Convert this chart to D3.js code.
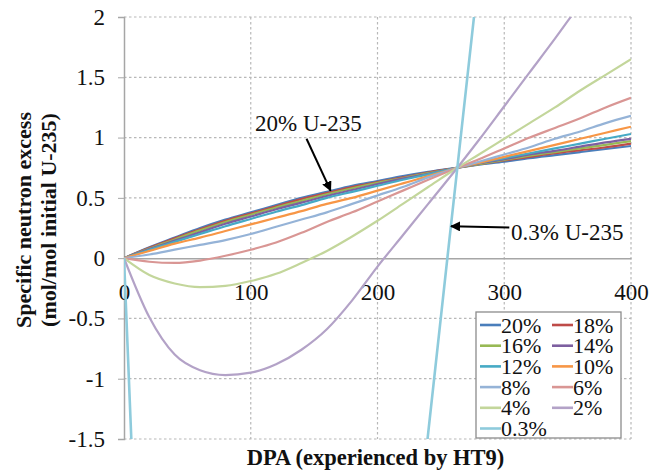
<!DOCTYPE html>
<html><head><meta charset="utf-8">
<script src="https://cdn.jsdelivr.net/npm/d3@7"></script>
<style>body{margin:0;background:#fff}svg{display:block}</style>
</head><body>
<script>
const dpa = [0,20,40,60,80,100,120,140,160,180,200,220,240,263,280,300,320,340,360,380,400];
const s20 = [0,0.09,0.17,0.25,0.32,0.38,0.44,0.50,0.55,0.60,0.64,0.68,0.715,0.75,0.775,0.80,0.83,0.855,0.88,0.905,0.93];
const s18 = [0,0.085,0.165,0.24,0.31,0.37,0.43,0.49,0.54,0.59,0.63,0.67,0.71,0.75,0.78,0.81,0.84,0.87,0.895,0.92,0.95];
const s16 = [0,0.08,0.155,0.23,0.30,0.36,0.42,0.475,0.53,0.58,0.625,0.665,0.705,0.75,0.78,0.815,0.85,0.88,0.91,0.94,0.97];
const s14 = [0,0.075,0.145,0.215,0.285,0.345,0.405,0.46,0.515,0.565,0.615,0.66,0.70,0.75,0.785,0.82,0.86,0.89,0.925,0.96,0.99];
const s12 = [0,0.07,0.135,0.20,0.265,0.325,0.385,0.44,0.50,0.55,0.60,0.65,0.695,0.75,0.79,0.83,0.87,0.91,0.95,0.99,1.03];
const s10 = [0,0.06,0.12,0.17,0.225,0.28,0.335,0.39,0.45,0.50,0.56,0.62,0.68,0.75,0.79,0.84,0.89,0.94,0.99,1.04,1.09];
const s8  = [0,0.03,0.07,0.11,0.15,0.20,0.26,0.32,0.38,0.45,0.52,0.59,0.67,0.75,0.80,0.86,0.92,0.99,1.05,1.12,1.18];
const s6  = [0,-0.03,-0.04,-0.02,0.02,0.07,0.13,0.21,0.30,0.38,0.47,0.56,0.65,0.75,0.82,0.91,1.00,1.08,1.16,1.25,1.33];
const s4  = [0,-0.14,-0.21,-0.24,-0.23,-0.19,-0.13,-0.04,0.06,0.18,0.31,0.45,0.59,0.75,0.86,0.99,1.12,1.25,1.39,1.52,1.65];
const s2  = [0,-0.49,-0.80,-0.93,-0.97,-0.95,-0.88,-0.76,-0.59,-0.35,-0.07,0.19,0.45,0.75,0.98,1.26,1.54,1.82,2.11,2.39,2.67];
const s03 = [0,-5.2,-9.0,-11.5,-12.8,-13.2,-12.9,-11.9,-10.4,-8.5,-6.2,-3.45,-1.45,0.75,2.37,4.3,6.2,8.1,10.0,11.9,13.8];

const seriesNames = ["20%","18%","16%","14%","12%","10%","8%","6%","4%","2%","0.3%"];
const seriesValues = [s20,s18,s16,s14,s12,s10,s8,s6,s4,s2,s03];
const colors = ["#4a7ebb","#be4b48","#98b954","#7d5fa0","#46aac5","#f79646","#95b3d7","#d99694","#c3d69b","#b3a2c7","#8ecbdc"];
const xTicks = [0,100,200,300,400];
const yTicks = [-1.5,-1,-0.5,0,0.5,1,1.5,2];

const W=650,H=472;
const L=124,R=631,T=17,B=439;
const svg=d3.select("body").append("svg").attr("width",W).attr("height",H);
const x=d3.scaleLinear().domain([0,400]).range([L,R]);
const y=d3.scaleLinear().domain([-1.5,2]).range([B,T]);
const font="'Liberation Serif','Times New Roman',serif";

// grid
const g=svg.append("g");
g.selectAll("line.v").data(xTicks.filter(d=>d>0)).join("line")
 .attr("x1",d=>x(d)).attr("x2",d=>x(d)).attr("y1",T).attr("y2",B)
 .attr("stroke","#b8b8b8").attr("stroke-dasharray","2.5,2.5").attr("stroke-width",1.2);
g.selectAll("line.h").data(yTicks.filter(d=>d!==0)).join("line")
 .attr("x1",L).attr("x2",R).attr("y1",d=>y(d)).attr("y2",d=>y(d))
 .attr("stroke","#b8b8b8").attr("stroke-dasharray","2.5,2.5").attr("stroke-width",1.2);

// y axis
const yAxis=d3.axisLeft(y).tickValues(yTicks).tickSize(6).tickPadding(13).tickFormat(d=>String(d));
const ya=svg.append("g").attr("transform",`translate(${L},0)`).call(yAxis);
ya.select(".domain").attr("stroke","#a6a6a6").attr("stroke-width",1.5);
ya.selectAll(".tick line").attr("stroke","#a6a6a6");
ya.selectAll("text").attr("font-family",font).attr("font-size",23).attr("fill","#111");

// x axis at zero
const xAxis=d3.axisBottom(x).tickValues(xTicks).tickSize(0).tickPadding(26);
const xa=svg.append("g").attr("transform",`translate(0,${y(0)})`).call(xAxis);
xa.select(".domain").attr("stroke","#a6a6a6").attr("stroke-width",1.5);
xa.selectAll("text").attr("font-family",font).attr("font-size",23).attr("fill","#111");

// lines
svg.append("clipPath").attr("id","clip").append("rect").attr("x",L).attr("y",T).attr("width",R-L).attr("height",B-T);
const line=d3.line().x((d,i)=>x(dpa[i])).y(d=>y(d)).curve(d3.curveMonotoneX);
const lg=svg.append("g").attr("clip-path","url(#clip)");
seriesValues.forEach((vals,k)=>{
  lg.append("path").attr("d",line(vals)).attr("fill","none")
    .attr("stroke",colors[k]).attr("stroke-width",k===10?2.6:2.2).attr("stroke-linejoin","round");
});

// annotations
const defs=svg.append("defs");
defs.append("marker").attr("id","ah").attr("viewBox","0 0 10 10").attr("refX",9).attr("refY",5)
 .attr("markerWidth",5).attr("markerHeight",5).attr("orient","auto")
 .append("path").attr("d","M0,0 L10,5 L0,10 z").attr("fill","#000");
svg.append("text").attr("x",255).attr("y",131).attr("font-family",font).attr("font-size",23).attr("fill","#111").text("20% U-235");
svg.append("line").attr("x1",x(144)).attr("y1",y(0.99)).attr("x2",x(163)).attr("y2",y(0.56))
 .attr("stroke","#000").attr("stroke-width",2).attr("marker-end","url(#ah)");
svg.append("text").attr("x",511).attr("y",240).attr("font-family",font).attr("font-size",23).attr("fill","#111").text("0.3% U-235");
svg.append("line").attr("x1",x(304)).attr("y1",y(0.255)).attr("x2",x(258)).attr("y2",y(0.265))
 .attr("stroke","#000").attr("stroke-width",2).attr("marker-end","url(#ah)");

// legend
const lx=476,ly=312,lw=145,lh=126;
const leg=svg.append("g");
leg.append("rect").attr("x",lx).attr("y",ly).attr("width",lw).attr("height",lh)
 .attr("fill","#fff").attr("stroke","#8c8c8c").attr("stroke-width",1.3);
seriesNames.forEach((n,k)=>{
  const col=k%2, row=Math.floor(k/2);
  const cx=lx+4+col*72, cy=ly+13+row*20.7;
  leg.append("line").attr("x1",cx).attr("x2",cx+21).attr("y1",cy).attr("y2",cy)
    .attr("stroke",colors[k]).attr("stroke-width",2.6);
  leg.append("text").attr("x",cx+21).attr("y",cy+7.5).attr("font-family",font).attr("font-size",22).attr("fill","#111").text(n);
});

// axis titles
svg.append("text").attr("x",(L+R)/2-2).attr("y",465).attr("text-anchor","middle")
 .attr("font-family",font).attr("font-weight","bold").attr("font-size",22.5).attr("fill","#111").text("DPA (experienced by HT9)");
const yt=svg.append("text").attr("transform","translate(0,220) rotate(-90)").attr("text-anchor","middle")
 .attr("font-family",font).attr("font-weight","bold").attr("font-size",22).attr("fill","#111");
yt.append("tspan").attr("x",0).attr("y",31).text("Specific neutron excess");
yt.append("tspan").attr("x",0).attr("y",56).text("(mol/mol initial U-235)");
</script>
</body></html>
